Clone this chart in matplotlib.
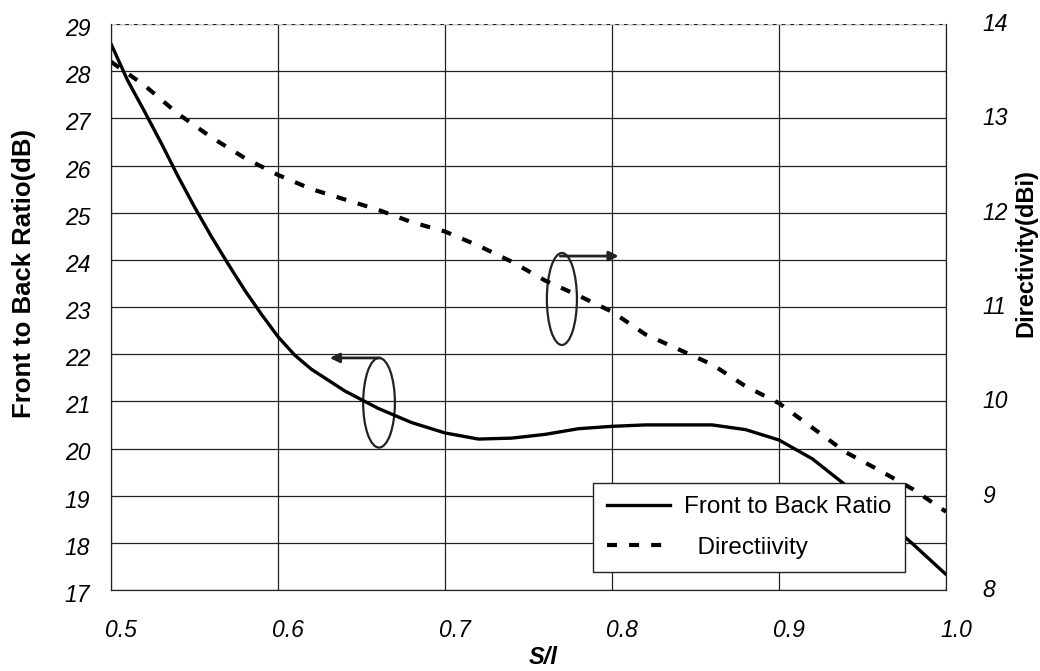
import numpy as np
import matplotlib
matplotlib.use("Agg")
import matplotlib.pyplot as plt
import matplotlib.transforms as mtransforms
from matplotlib.patches import Ellipse
from matplotlib.lines import Line2D

plt.rcParams['font.family'] = ['Liberation Sans', 'DejaVu Sans']

s_ratio = [0.50, 0.51, 0.52, 0.53, 0.54, 0.55, 0.56, 0.57, 0.58, 0.59, 0.60, 0.61, 0.62, 0.63, 0.64,
           0.66, 0.68, 0.70, 0.72, 0.74, 0.76, 0.78, 0.80, 0.82, 0.84, 0.86, 0.88, 0.90, 0.92,
           0.94, 0.96, 0.98, 1.00]
front_back = [28.58, 27.8, 27.15, 26.48, 25.78, 25.12, 24.5, 23.92, 23.36, 22.85, 22.37, 21.98, 21.68,
              21.45, 21.22, 20.85, 20.55, 20.33, 20.2, 20.22, 20.3, 20.42, 20.47, 20.5, 20.5, 20.5,
              20.4, 20.18, 19.78, 19.22, 18.6, 17.98, 17.33]

s_dir = [0.50, 0.52, 0.54, 0.56, 0.58, 0.60, 0.62, 0.64, 0.66, 0.68, 0.70, 0.72, 0.74,
         0.76, 0.78, 0.80, 0.82, 0.84, 0.86, 0.88, 0.90, 0.92, 0.94, 0.96, 0.98, 1.00]
directivity = [13.6, 13.35, 13.05, 12.8, 12.58, 12.4, 12.25, 12.14, 12.03, 11.9, 11.8, 11.65, 11.48,
               11.28, 11.12, 10.95, 10.71, 10.55, 10.39, 10.16, 9.98, 9.72, 9.46, 9.27, 9.07, 8.83]

x_ticks = [0.5, 0.6, 0.7, 0.8, 0.9, 1.0]
x_labels = ['0.5', '0.6', '0.7', '0.8', '0.9', '1.0']
left_ticks = list(range(17, 30))
right_ticks = list(range(8, 15))

fig = plt.figure(figsize=(10.4, 6.71), dpi=100)
ax = fig.add_axes([111 / 1040, 1 - 590 / 671, 835 / 1040, 566 / 671])
ax2 = ax.twinx()

ax.plot(s_ratio, front_back, color='black', lw=2.4, solid_capstyle='round', solid_joinstyle='round')
ax2.plot(s_dir, directivity, color='black', lw=3, linestyle=(0, (2.4, 2.9)))

ax.set_xlim(0.5, 1.0)
ax.set_ylim(17, 29)
ax2.set_ylim(8, 14)

ax.set_xticks(x_ticks)
ax.set_xticklabels(x_labels)
ax.set_yticks(left_ticks)
ax2.set_yticks(right_ticks)

ax.grid(True, color='#222222', lw=0.9)
ax.set_axisbelow(True)
for sp in ['left', 'bottom', 'right']:
    ax.spines[sp].set_color('#222222')
    ax2.spines[sp].set_color('#222222')
ax.spines['top'].set_visible(False)
ax2.spines['top'].set_visible(False)
ax.axhline(29, color='#cccccc', lw=0.9, ls=(0, (4, 3)))

ax.tick_params(axis='x', length=0, pad=21)
ax.tick_params(axis='y', length=0, pad=15)
ax2.tick_params(axis='y', length=0, pad=26)
for lab in ax.get_xticklabels():
    lab.set_fontsize(16.5); lab.set_fontstyle('italic')
    lab.set_transform(lab.get_transform() + mtransforms.ScaledTranslation(0.10, 0, fig.dpi_scale_trans))
for lab in ax.get_yticklabels():
    lab.set_fontsize(16.5); lab.set_fontstyle('italic')
    lab.set_transform(lab.get_transform() + mtransforms.ScaledTranslation(0, -0.03, fig.dpi_scale_trans))
for lab in ax2.get_yticklabels():
    lab.set_fontsize(16.5); lab.set_fontstyle('italic')
    lab.set_transform(lab.get_transform() + mtransforms.ScaledTranslation(0, 0.02, fig.dpi_scale_trans))

fig.text(24 / 1040, 1 - 273 / 671, 'Front to Back Ratio(dB)', rotation=90, fontsize=18.5,
         fontweight='bold', ha='center', va='center')
fig.text(1026 / 1040, 1 - 253 / 671, 'Directivity(dBi)', rotation=90, fontsize=17,
         fontweight='bold', ha='center', va='center')
fig.text(543 / 1040, 2 / 671, 'S/l', fontsize=17, fontweight='bold', fontstyle='italic',
         ha='center', va='bottom')

# ellipses with arrows marking which axis each curve uses
ax.add_patch(Ellipse((0.6605, 20.97), 0.019, 1.9, fill=False, ec='#222222', lw=1.6))
ax.annotate('', xy=(0.631, 21.92), xytext=(0.661, 21.92),
            arrowprops=dict(arrowstyle='-|>', lw=2, color='#222222', mutation_scale=14, shrinkA=0, shrinkB=0))
ax.add_patch(Ellipse((0.770, 23.17), 0.018, 1.95, fill=False, ec='#222222', lw=1.6))
ax.annotate('', xy=(0.804, 24.08), xytext=(0.769, 24.08),
            arrowprops=dict(arrowstyle='-|>', lw=2, color='#222222', mutation_scale=14, shrinkA=0, shrinkB=0))

handles = [Line2D([], [], color='black', lw=2.4),
           Line2D([], [], color='black', lw=3, linestyle=(0, (2.4, 2.9)))]
leg = ax2.legend(handles, ['Front to Back Ratio', '  Directiivity'], loc='upper right',
                 bbox_to_anchor=(0.951, 0.189), fontsize=17.5, frameon=True, fancybox=False,
                 edgecolor='#222222', framealpha=1, handlelength=2.6, handletextpad=0.6,
                 borderpad=0.55, labelspacing=0.75, borderaxespad=0)
leg.get_frame().set_linewidth(1.0)

fig.savefig('out.png', dpi=100)
